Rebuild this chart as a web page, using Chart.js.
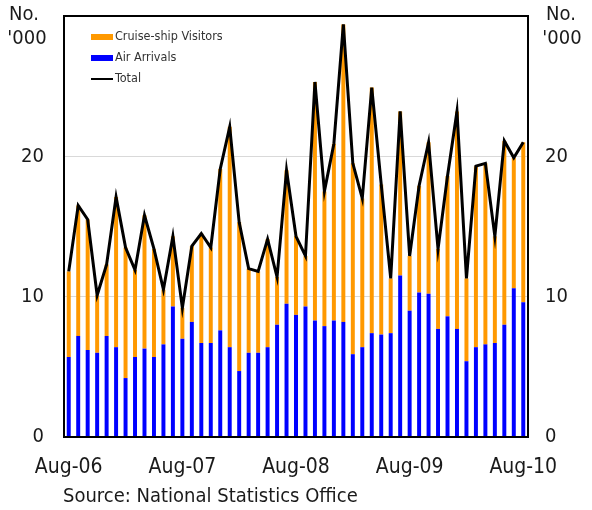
<!DOCTYPE html>
<html>
<head>
<meta charset="utf-8">
<script src="https://cdn.jsdelivr.net/npm/chart.js@4"></script>
<style>
  html, body { margin: 0; padding: 0; background: #fff; }
  canvas { display: block; }
</style>
</head>
<body>
<canvas id="visitors" width="592" height="510"></canvas>
<script>
/* ===== Visitor arrivals, Aug-06 to Aug-10 ('000) ===== */

const months = [
  'Aug-06','Sep-06','Oct-06','Nov-06','Dec-06','Jan-07','Feb-07','Mar-07','Apr-07','May-07','Jun-07','Jul-07',
  'Aug-07','Sep-07','Oct-07','Nov-07','Dec-07','Jan-08','Feb-08','Mar-08','Apr-08','May-08','Jun-08','Jul-08',
  'Aug-08','Sep-08','Oct-08','Nov-08','Dec-08','Jan-09','Feb-09','Mar-09','Apr-09','May-09','Jun-09','Jul-09',
  'Aug-09','Sep-09','Oct-09','Nov-09','Dec-09','Jan-10','Feb-10','Mar-10','Apr-10','May-10','Jun-10','Jul-10',
  'Aug-10'
];

const airArrivals = [
  5.7, 7.2, 6.2, 6.0, 7.2, 6.4, 4.2, 5.7, 6.3, 5.7, 6.6, 9.3,
  7.0, 8.2, 6.7, 6.7, 7.6, 6.4, 4.7, 6.0, 6.0, 6.4, 8.0, 9.5,
  8.7, 9.3, 8.3, 7.9, 8.3, 8.2, 5.9, 6.4, 7.4, 7.3, 7.4, 11.5,
  9.0, 10.3, 10.2, 7.7, 8.6, 7.7, 5.4, 6.4, 6.6, 6.7, 8.0, 10.6,
  9.6
];

const cruiseVisitors = [
  6.1, 9.3, 9.3, 4.1, 5.1, 10.7, 9.3, 6.2, 9.5, 7.7, 3.9, 5.0,
  2.2, 5.4, 7.8, 6.8, 11.5, 15.7, 10.6, 6.0, 5.8, 7.7, 3.4, 9.5,
  5.6, 3.6, 17.0, 9.6, 12.6, 21.2, 13.6, 10.6, 17.5, 10.7, 3.9, 11.7,
  3.9, 7.6, 10.8, 5.7, 10.0, 15.5, 5.9, 12.9, 12.9, 7.6, 13.1, 9.3,
  11.4
];

const totalVisitors = [
  11.8, 16.5, 15.5, 10.1, 12.3, 17.1, 13.5, 11.9, 15.8, 13.4, 10.5, 14.3,
  9.2, 13.6, 14.5, 13.5, 19.1, 22.1, 15.3, 12.0, 11.8, 14.1, 11.4, 19.0,
  14.3, 12.9, 25.3, 17.5, 20.9, 29.4, 19.5, 17.0, 24.9, 18.0, 11.3, 23.2,
  12.9, 17.9, 21.0, 13.4, 18.6, 23.2, 11.3, 19.3, 19.5, 14.3, 21.1, 19.9,
  21.0
];

const yTicks = [0, 10, 20];
const yMax = 30;

const COLORS = {
  orange: '#ff9900',
  blue:   '#0000ff',
  black:  '#000000',
  grid:   '#d9d9d9',
  text:   '#1a1a1a'
};

const FONT = "'DejaVu Sans Condensed', 'DejaVu Sans', sans-serif";
Chart.defaults.font.family = FONT;
Chart.defaults.color = COLORS.text;

// legend drawn inside the plot, top left
const insideLegend = {
  id: 'insideLegend',
  afterDraw(chart) {
    const ctx = chart.ctx;
    const ds = chart.data.datasets;
    const items = [ds[1], ds[0], ds[2]];
    const x = 91, ys = [37, 58, 79];
    ctx.save();
    ctx.font = '12.5px ' + FONT;
    ctx.textBaseline = 'middle';
    items.forEach((d, i) => {
      const y = ys[i];
      if (d.type === 'line') {
        ctx.fillStyle = d.borderColor;
        ctx.fillRect(x, y - 1, 22, 2);
      } else {
        ctx.fillStyle = d.backgroundColor;
        ctx.fillRect(x, y - 3, 22, 6);
      }
      ctx.fillStyle = '#333';
      ctx.fillText(d.label, x + 24, y);
    });
    ctx.restore();
  }
};

// plot frame, unit labels and source note
const frameAndNotes = {
  id: 'frameAndNotes',
  afterDraw(chart) {
    const ctx = chart.ctx;
    const a = chart.chartArea;
    ctx.save();
    ctx.strokeStyle = COLORS.black;
    ctx.lineWidth = 2;
    ctx.strokeRect(a.left, a.top, a.right - a.left, a.bottom - a.top);

    ctx.fillStyle = COLORS.text;
    ctx.font = '20px ' + FONT;
    ctx.textBaseline = 'middle';
    ctx.textAlign = 'center';
    ctx.fillText('No.', 24, 15);
    ctx.fillText("'000", 27, 39);
    ctx.fillText('No.', 561, 15);
    ctx.fillText("'000", 562, 39);

    ctx.textAlign = 'left';
    ctx.fillText('Source: National Statistics Office', 63, 497);
    ctx.restore();
  }
};

const fitY = s => { s.width = 64; s.paddingTop = 0; s.paddingBottom = 0; };

const ctx = document.getElementById('visitors').getContext('2d');

new Chart(ctx, {
  data: {
    labels: months,
    datasets: [
      {
        type: 'bar',
        label: 'Air Arrivals',
        data: airArrivals,
        backgroundColor: COLORS.blue,
        stack: 'visitors',
        barPercentage: 0.42,
        categoryPercentage: 1,
        order: 2
      },
      {
        type: 'bar',
        label: 'Cruise-ship Visitors',
        data: cruiseVisitors,
        backgroundColor: COLORS.orange,
        stack: 'visitors',
        barPercentage: 0.42,
        categoryPercentage: 1,
        order: 2
      },
      {
        type: 'line',
        label: 'Total',
        data: totalVisitors,
        borderColor: COLORS.black,
        backgroundColor: COLORS.black,
        borderWidth: 3,
        pointRadius: 0,
        tension: 0,
        borderJoinStyle: 'miter',
        stack: 'total',
        order: 1
      }
    ]
  },
  options: {
    responsive: false,
    animation: false,
    layout: { padding: { top: 16, left: 0, right: 0, bottom: 0 } },
    plugins: {
      legend: { display: false },
      tooltip: { enabled: false }
    },
    scales: {
      x: {
        stacked: true,
        grid: { display: false, drawTicks: false },
        border: { display: false },
        ticks: {
          autoSkip: false,
          maxRotation: 0,
          padding: 18,
          font: { size: 21 },
          callback: (v, i) => (i % 12 === 0 ? months[i] : '')
        },
        afterFit: s => { s.height = 73; s.paddingLeft = 0; s.paddingRight = 0; }
      },
      y: {
        stacked: true,
        position: 'left',
        min: 0,
        max: yMax,
        grid: {
          drawTicks: false,
          color: c => (c.tick && c.tick.value > 0 && c.tick.value < yMax ? COLORS.grid : 'rgba(0,0,0,0)')
        },
        border: { display: false },
        ticks: {
          stepSize: 10,
          padding: 20,
          font: { size: 20 },
          callback: v => (yTicks.includes(v) ? v : '')
        },
        afterFit: fitY
      },
      y2: {
        position: 'right',
        min: 0,
        max: yMax,
        grid: { display: false, drawTicks: false },
        border: { display: false },
        ticks: {
          stepSize: 10,
          padding: 17,
          font: { size: 20 },
          callback: v => (yTicks.includes(v) ? v : '')
        },
        afterFit: fitY
      }
    }
  },
  plugins: [insideLegend, frameAndNotes]
});
</script>
</body>
</html>
